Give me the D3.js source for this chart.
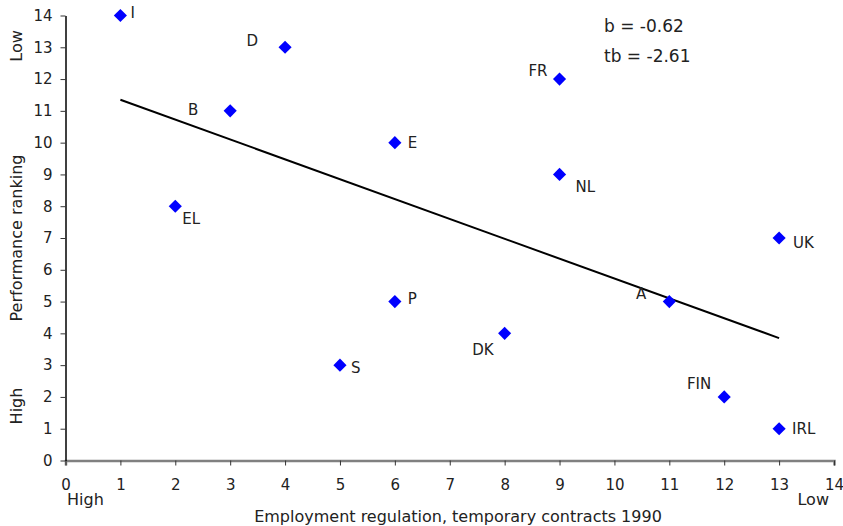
<!DOCTYPE html>
<html>
<head>
<meta charset="utf-8">
<script src="https://cdn.jsdelivr.net/npm/d3@7"></script>
<style>
  body { margin: 0; background: #fff; }
  text { font-family: "DejaVu Sans", "Lato", sans-serif; fill: #222; }
</style>
</head>
<body>
<script>
var width = 843;
var height = 526;

// country codes, x = employment regulation, y = performance ranking
var countries = ["I", "D", "FR", "B", "E", "NL", "EL", "UK", "P", "A", "DK", "S", "FIN", "IRL"];
var regulation = [1, 4, 9, 3, 6, 9, 2, 13, 6, 11, 8, 5, 12, 13];
var ranking = [14, 13, 12, 11, 10, 9, 8, 7, 5, 5, 4, 3, 2, 1];

// fitted line endpoints
var trendX = [1, 13];
var trendY = [11.35, 3.85];

var xTicks = d3.range(0, 15);
var yTicks = d3.range(0, 15);

// label placement (dx, dy, anchor) per country
var labelLayout = {
    I: [10, -3, "start"], D: [-27, -7, "end"], FR: [-12, -8, "end"],
    B: [-32, -1, "end"], E: [13, 0, "start"], NL: [16, 12, "start"],
    EL: [7, 13, "start"], UK: [14, 5, "start"], P: [13, -3, "start"],
    A: [-23, -8, "end"], DK: [-11, 16, "end"], S: [11, 3, "start"],
    FIN: [-13, -13, "end"], IRL: [13, 0, "start"]
};

var svg = d3.select("body")
    .append("svg")
    .attr("width", width)
    .attr("height", height);

var x = d3.scaleLinear().domain([0, 14]).range([65.5, 834]);
var y = d3.scaleLinear().domain([0, 14]).range([460.5, 15.5]);

// x axis
var xAxis = svg.append("g")
    .attr("transform", "translate(0," + y(0) + ")")
    .call(d3.axisBottom(x).tickValues(xTicks).tickSize(5).tickPadding(14));
xAxis.select(".domain").attr("stroke", "#808080").attr("stroke-width", 2.5);
xAxis.selectAll(".tick line").attr("stroke", "#333");
xAxis.selectAll(".tick text").style("font-size", "15px").attr("fill", "#222");

// y axis
var yAxis = svg.append("g")
    .attr("transform", "translate(" + x(0) + ",0)")
    .call(d3.axisLeft(y).tickValues(yTicks).tickSize(5).tickSizeOuter(0).tickPadding(8));
yAxis.select(".domain").attr("stroke", "#000").attr("stroke-width", 1.5);
yAxis.selectAll(".tick line").attr("stroke", "#333");
yAxis.selectAll(".tick text").style("font-size", "15px").attr("fill", "#222");

// trend line
svg.append("line")
    .attr("x1", x(trendX[0])).attr("y1", y(trendY[0]))
    .attr("x2", x(trendX[1])).attr("y2", y(trendY[1]))
    .attr("stroke", "#000")
    .attr("stroke-width", 2);

var pts = countries.map(function(c, i) {
    return {name: c, x: regulation[i], y: ranking[i]};
});

svg.append("g")
    .selectAll("path")
    .data(pts)
    .enter()
    .append("path")
    .attr("d", d3.symbol().type(d3.symbolDiamond2).size(110))
    .attr("transform", function(d) { return "translate(" + x(d.x) + "," + y(d.y) + ")"; })
    .attr("fill", "#0000ff");

svg.append("g")
    .selectAll("text")
    .data(pts)
    .enter()
    .append("text")
    .attr("x", function(d) { return x(d.x) + labelLayout[d.name][0]; })
    .attr("y", function(d) { return y(d.y) + labelLayout[d.name][1]; })
    .attr("dy", "0.35em")
    .attr("text-anchor", function(d) { return labelLayout[d.name][2]; })
    .style("font-size", "15px")
    .text(function(d) { return d.name; });

// stats
svg.append("text").attr("x", 604).attr("y", 32).style("font-size", "17px").text("b = -0.62");
svg.append("text").attr("x", 604).attr("y", 62).style("font-size", "17px").text("tb = -2.61");

// axis titles
svg.append("text")
    .attr("x", 458).attr("y", 522)
    .attr("text-anchor", "middle")
    .style("font-size", "16px")
    .text("Employment regulation, temporary contracts 1990");
svg.append("text").attr("x", 67).attr("y", 505).style("font-size", "16px").text("High");
svg.append("text").attr("x", 829).attr("y", 505).attr("text-anchor", "end").style("font-size", "16px").text("Low");

svg.append("text")
    .attr("transform", "translate(22,238) rotate(-90)")
    .attr("text-anchor", "middle")
    .style("font-size", "16px")
    .text("Performance ranking");
svg.append("text")
    .attr("transform", "translate(22,46) rotate(-90)")
    .attr("text-anchor", "middle")
    .style("font-size", "16px")
    .text("Low");
svg.append("text")
    .attr("transform", "translate(22,406) rotate(-90)")
    .attr("text-anchor", "middle")
    .style("font-size", "16px")
    .text("High");
</script>
</body>
</html>
